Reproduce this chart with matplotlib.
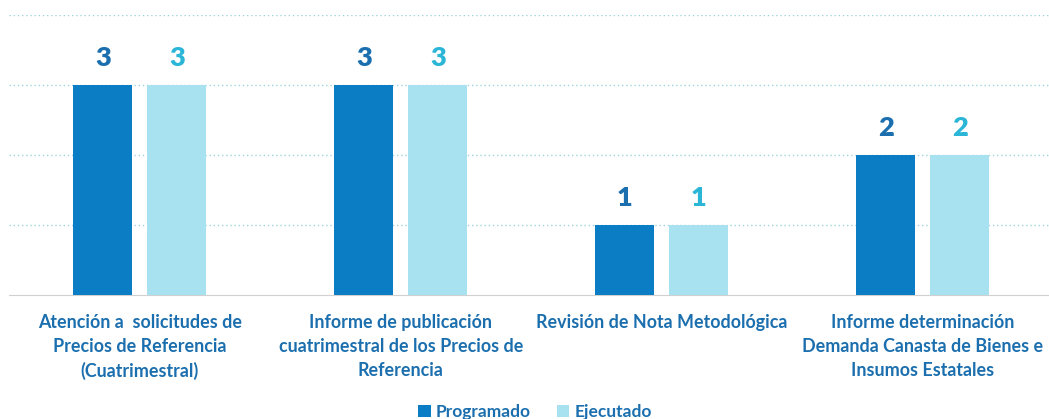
import matplotlib.pyplot as plt
import numpy as np

# Data
categories = [
    "Atención a  solicitudes de\nPrecios de Referencia\n(Cuatrimestral)",
    "Informe de publicación\ncuatrimestral de los Precios de\nReferencia",
    "Revisión de Nota Metodológica",
    "Informe determinación\nDemanda Canasta de Bienes e\nInsumos Estatales",
]
programado = [3, 3, 1, 2]
ejecutado = [3, 3, 1, 2]

dark = "#0b7dc4"
light = "#a8e1ef"
dark_txt = "#1b6fae"
light_txt = "#2bb6d8"

plt.rcParams['font.family'] = ['Lato', 'DejaVu Sans']

fig = plt.figure(figsize=(10.49, 4.19), dpi=100)
ax = fig.add_axes([0.009, 0.296, 0.995, 0.668])

x = np.arange(len(categories))
w = 0.226
off = 0.142
b1 = ax.bar(x - off, programado, w, color=dark, label="Programado", zorder=3)
b2 = ax.bar(x + off, ejecutado, w, color=light, label="Ejecutado", zorder=3)

for bar, v in zip(b1, programado):
    ax.text(bar.get_x() + bar.get_width() / 2, v + 0.22, str(v), ha='center', va='bottom',
            fontsize=19.5, fontweight='heavy', color=dark_txt)
for bar, v in zip(b2, ejecutado):
    ax.text(bar.get_x() + bar.get_width() / 2, v + 0.22, str(v), ha='center', va='bottom',
            fontsize=19.5, fontweight='heavy', color=light_txt)

ax.set_xlim(-0.5, len(categories) - 0.5)
ax.set_ylim(0, 4)
ax.set_yticks([1, 2, 3, 4])
ax.yaxis.grid(True, linestyle=(0, (1, 2)), color="#9fd3e0", linewidth=1, zorder=0)
ax.tick_params(left=False, labelleft=False, bottom=False)
for s in ['top', 'right', 'left']:
    ax.spines[s].set_visible(False)
ax.spines['bottom'].set_color("#d0d0d0")

ax.set_xticks(x)
ax.set_xticklabels(categories, fontsize=12.9, fontweight='bold', color=dark_txt,
                   linespacing=1.5)
ax.tick_params(axis='x', pad=10)

leg = fig.legend(handles=[b1, b2], loc='lower center', bbox_to_anchor=(0.51, -0.04), ncol=2,
                 frameon=False, fontsize=12.5, handlelength=0.7, handleheight=0.7,
                 handletextpad=0.3, columnspacing=1.5)
for t in leg.get_texts():
    t.set_color(dark_txt)
    t.set_fontweight('bold')

fig.savefig("out.png", dpi=100)
